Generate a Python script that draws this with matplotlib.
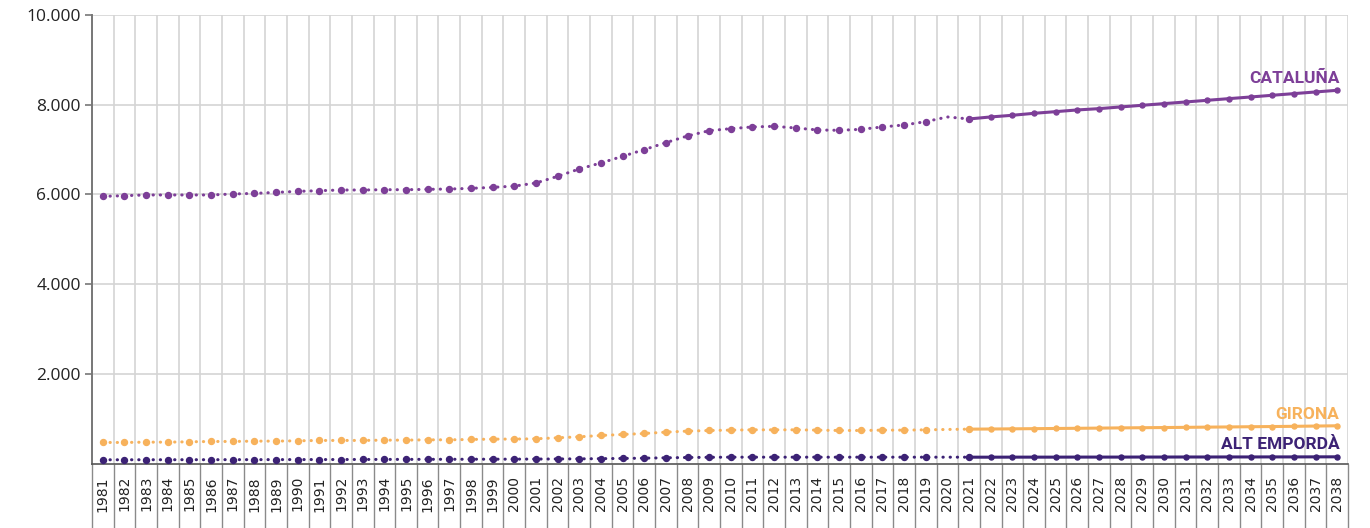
import numpy as np
import matplotlib.pyplot as plt
from matplotlib.ticker import FixedLocator, FuncFormatter

# -------------------------
# Data
# -------------------------

years = list(range(1981, 2039))
hist_years = list(range(1981, 2022))   # dotted part, 1981-2021
proj_years = list(range(2021, 2039))   # solid part, 2021-2038

cataluna_hist = [5956, 5971, 5987, 5987, 5987, 5987, 6009, 6023, 6045, 6068,
                 6083, 6098, 6098, 6105, 6105, 6113, 6120, 6135, 6157, 6185,
                 6254, 6403, 6567, 6701, 6849, 6998, 7154, 7303, 7421, 7466,
                 7504, 7518, 7481, 7437, 7429, 7451, 7504, 7548, 7622, 7727,
                 7682]
cataluna_proj = [7682, 7727, 7764, 7808, 7845, 7883, 7912, 7950, 7987, 8024,
                 8061, 8098, 8135, 8172, 8210, 8247, 8284, 8321]

girona_hist = [469, 469, 476, 476, 484, 491, 491, 499, 499, 506,
               514, 514, 514, 521, 521, 528, 528, 536, 543, 545,
               551, 573, 595, 625, 647, 669, 699, 722, 736, 744,
               751, 751, 751, 744, 736, 736, 744, 744, 751, 759,
               766]
girona_proj = [766, 769, 773, 777, 781, 785, 789, 794, 798, 802,
               806, 811, 815, 820, 824, 829, 835, 841]

alt_hist = [83, 83, 84, 84, 85, 85, 86, 86, 87, 88,
            88, 89, 90, 91, 92, 93, 94, 95, 96, 97,
            99, 101, 104, 108, 113, 119, 127, 134, 138, 141,
            141, 141, 141, 141, 141, 141, 141, 141, 141, 141,
            141]
alt_proj = [141, 141, 142, 142, 142, 143, 143, 143, 144, 144,
            145, 145, 146, 146, 147, 147, 148, 149]

series = [
    ("CATALUÑA", cataluna_hist, cataluna_proj, "#7d3f98"),
    ("GIRONA", girona_hist, girona_proj, "#f7b25c"),
    ("ALT EMPORDÀ", alt_hist, alt_proj, "#3c2275"),
]

y_ticks = [2000, 4000, 6000, 8000, 10000]

# -------------------------
# Plot setup
# -------------------------

plt.rcParams['font.family'] = ['Open Sans', 'DejaVu Sans']

fig = plt.figure(figsize=(13.7, 5.28), dpi=100)
ax = fig.add_axes([92 / 1370, 1 - 463.5 / 528, (1348 - 92) / 1370, (463.5 - 15) / 528])

x_hist = np.array(hist_years) - years[0]
x_proj = np.array(proj_years) - years[0]

# no big marker at 2020 in the reference
marks = [i for i in range(len(hist_years)) if hist_years[i] != 2020]

for name, hist, proj, color in series:
    ax.plot(x_hist, hist, color=color, lw=2.2, linestyle=(0, (0.1, 2.25)),
            dash_capstyle='round', marker='o', markersize=4.3,
            markevery=marks, zorder=3)
    ax.plot(x_proj, proj, color=color, lw=2.2, solid_capstyle='round',
            marker='o', markersize=3.6, zorder=4)

# series labels at the right end
label_pos = {"CATALUÑA": 8580, "GIRONA": 1090, "ALT EMPORDÀ": 420}
for name, hist, proj, color in series:
    ax.text(x_proj[-1] + 0.1, label_pos[name], name, color=color,
            fontsize=12.5, fontweight='bold', ha='right', va='center',
            family=['Roboto', 'DejaVu Sans'])

ax.set_xlim(-0.5, len(years) - 0.5)
ax.set_ylim(0, 10000)

# y axis
ax.yaxis.set_major_locator(FixedLocator(y_ticks))
ax.yaxis.set_major_formatter(FuncFormatter(lambda v, p: f"{int(v):,}".replace(",", ".")))
ax.tick_params(axis='y', direction='out', length=5, width=1.2, color='#777777',
               labelsize=12.5, labelcolor='#222222', pad=3)
ax.grid(axis='y', color='#d4d4d4', lw=1.2)

# x axis: labels at centres, long ticks at the category boundaries
ax.set_xticks(np.arange(len(years)))
ax.set_xticklabels([str(y) for y in years], rotation=90, fontsize=10,
                   color='#222222', family=['DejaVu Sans'])
ax.tick_params(axis='x', which='major', length=0, pad=9)
ax.set_xticks(np.arange(-0.5, len(years) + 0.5), minor=True)
ax.tick_params(axis='x', which='minor', direction='out', length=50,
               width=1.0, color='#8a8a8a')
ax.grid(axis='x', which='minor', color='#d4d4d4', lw=1.2)
ax.set_axisbelow(True)

for side in ['top', 'right']:
    ax.spines[side].set_visible(False)
ax.spines['left'].set_color('#777777')
ax.spines['left'].set_linewidth(1.4)
ax.spines['bottom'].set_color('#555555')
ax.spines['bottom'].set_linewidth(1.2)

fig.savefig("out.png", dpi=100)
